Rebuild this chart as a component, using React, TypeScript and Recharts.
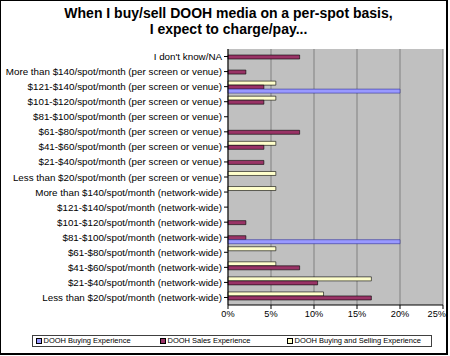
import React from 'react';
import { BarChart, Bar, XAxis, YAxis, CartesianGrid } from 'recharts';

const categories = [
  "I don't know/NA",
  'More than $140/spot/month (per screen or venue)',
  '$121-$140/spot/month (per screen or venue)',
  '$101-$120/spot/month (per screen or venue)',
  '$81-$100/spot/month (per screen or venue)',
  '$61-$80/spot/month (per screen or venue)',
  '$41-$60/spot/month (per screen or venue)',
  '$21-$40/spot/month (per screen or venue)',
  'Less than $20/spot/month (per screen or venue)',
  'More than $140/spot/month (network-wide)',
  '$121-$140/spot/month (network-wide)',
  '$101-$120/spot/month (network-wide)',
  '$81-$100/spot/month (network-wide)',
  '$61-$80/spot/month (network-wide)',
  '$41-$60/spot/month (network-wide)',
  '$21-$40/spot/month (network-wide)',
  'Less than $20/spot/month (network-wide)',
];

const buyingExperience = [0, 0, 20, 0, 0, 0, 0, 0, 0, 0, 0, 0, 20, 0, 0, 0, 0];
const salesExperience = [8.33, 2.08, 4.17, 4.17, 0, 8.33, 4.17, 4.17, 0, 0, 0, 2.08, 2.08, 0, 8.33, 10.42, 16.67];
const buyingSellingExperience = [0, 0, 5.56, 5.56, 0, 0, 5.56, 0, 5.56, 5.56, 0, 0, 0, 5.56, 5.56, 16.67, 11.11];

const xTicks = [0, 5, 10, 15, 20, 25];
const seriesNames = ['DOOH Buying Experience', 'DOOH Sales Experience', 'DOOH Buying and Selling Experience'];
const seriesColors = ['#9999FF', '#993366', '#FFFFCC'];
const titleLines = ['When I buy/sell DOOH media on a per-spot basis,', 'I expect to charge/pay...'];

const data = categories.map((name, i) => ({
  name,
  buy: buyingExperience[i],
  sales: salesExperience[i],
  both: buyingSellingExperience[i],
}));

const FONT = '"Liberation Sans", Arial, sans-serif';

const YTick = (props: any) => {
  const { x, y, payload } = props;
  return (
    <text x={x} y={y} textAnchor="end" dominantBaseline="central" fontSize={9.8} fontFamily={FONT} fill="#000">
      {payload.value}
    </text>
  );
};

const XTick = (props: any) => {
  const { x, y, payload } = props;
  const last = payload.value === 25;
  return (
    <text
      x={last ? 446 : x}
      y={y + 6}
      textAnchor={last ? 'end' : 'middle'}
      fontSize={9.2}
      fontFamily={FONT}
      fill="#000"
    >
      {`${payload.value}%`}
    </text>
  );
};

export default function App() {
  const legendX = [36, 160, 287];
  return (
    <div style={{ position: 'relative', width: 450, height: 356, background: '#fff', fontFamily: FONT }}>
      <style>{`body{margin:0;background:#fff}`}</style>
      <div
        style={{
          position: 'absolute',
          left: 0,
          top: 0,
          width: 448,
          height: 355,
          boxSizing: 'border-box',
          borderLeft: '1px solid #000',
          borderTop: '1px solid #000',
          borderRight: '2px solid #000',
          borderBottom: '2px solid #000',
        }}
      />
      <div
        style={{
          position: 'absolute',
          left: 0,
          top: 5,
          width: 457,
          textAlign: 'center',
          fontSize: 14,
          fontWeight: 'bold',
          lineHeight: '16px',
          color: '#000',
        }}
      >
        {titleLines.map((t) => (
          <div key={t}>{t}</div>
        ))}
      </div>
      <div style={{ position: 'absolute', left: 0, top: 0 }}>
        <BarChart
          width={450}
          height={356}
          data={data}
          layout="vertical"
          margin={{ top: 49, right: 7, bottom: 31, left: 0 }}
          barGap={0}
          barSize={4}
        >
          <CartesianGrid horizontal={false} vertical={true} stroke="#808080" fill="#C0C0C0" />
          <XAxis
            type="number"
            domain={[0, 25]}
            ticks={xTicks}
            height={20}
            tickSize={4}
            tickMargin={2}
            stroke="#000"
            tick={<XTick />}
            interval={0}
          />
          <YAxis
            type="category"
            dataKey="name"
            width={228}
            tickSize={4}
            tickMargin={2}
            stroke="#000"
            interval={0}
            tick={<YTick />}
          />
          <Bar dataKey="both" name={seriesNames[2]} fill={seriesColors[2]} stroke="#000" strokeWidth={0.6} isAnimationActive={false} />
          <Bar dataKey="sales" name={seriesNames[1]} fill={seriesColors[1]} stroke="#000" strokeWidth={0.6} isAnimationActive={false} />
          <Bar dataKey="buy" name={seriesNames[0]} fill={seriesColors[0]} stroke="#333399" strokeWidth={0.6} isAnimationActive={false} />
        </BarChart>
      </div>
      <div
        style={{
          position: 'absolute',
          left: 32,
          top: 335,
          width: 400,
          height: 12,
          boxSizing: 'border-box',
          border: '1px solid #404040',
          background: '#fff',
        }}
      />
      {seriesNames.map((n, i) => (
        <div key={n} style={{ position: 'absolute', left: legendX[i], top: 337, height: 8, display: 'flex', alignItems: 'center' }}>
          <div style={{ width: 4, height: 4, background: seriesColors[i], border: '1px solid #000' }} />
          <span style={{ fontSize: 7.5, marginLeft: 1.5, color: '#000', lineHeight: '8px', whiteSpace: 'nowrap' }}>{n}</span>
        </div>
      ))}
    </div>
  );
}
